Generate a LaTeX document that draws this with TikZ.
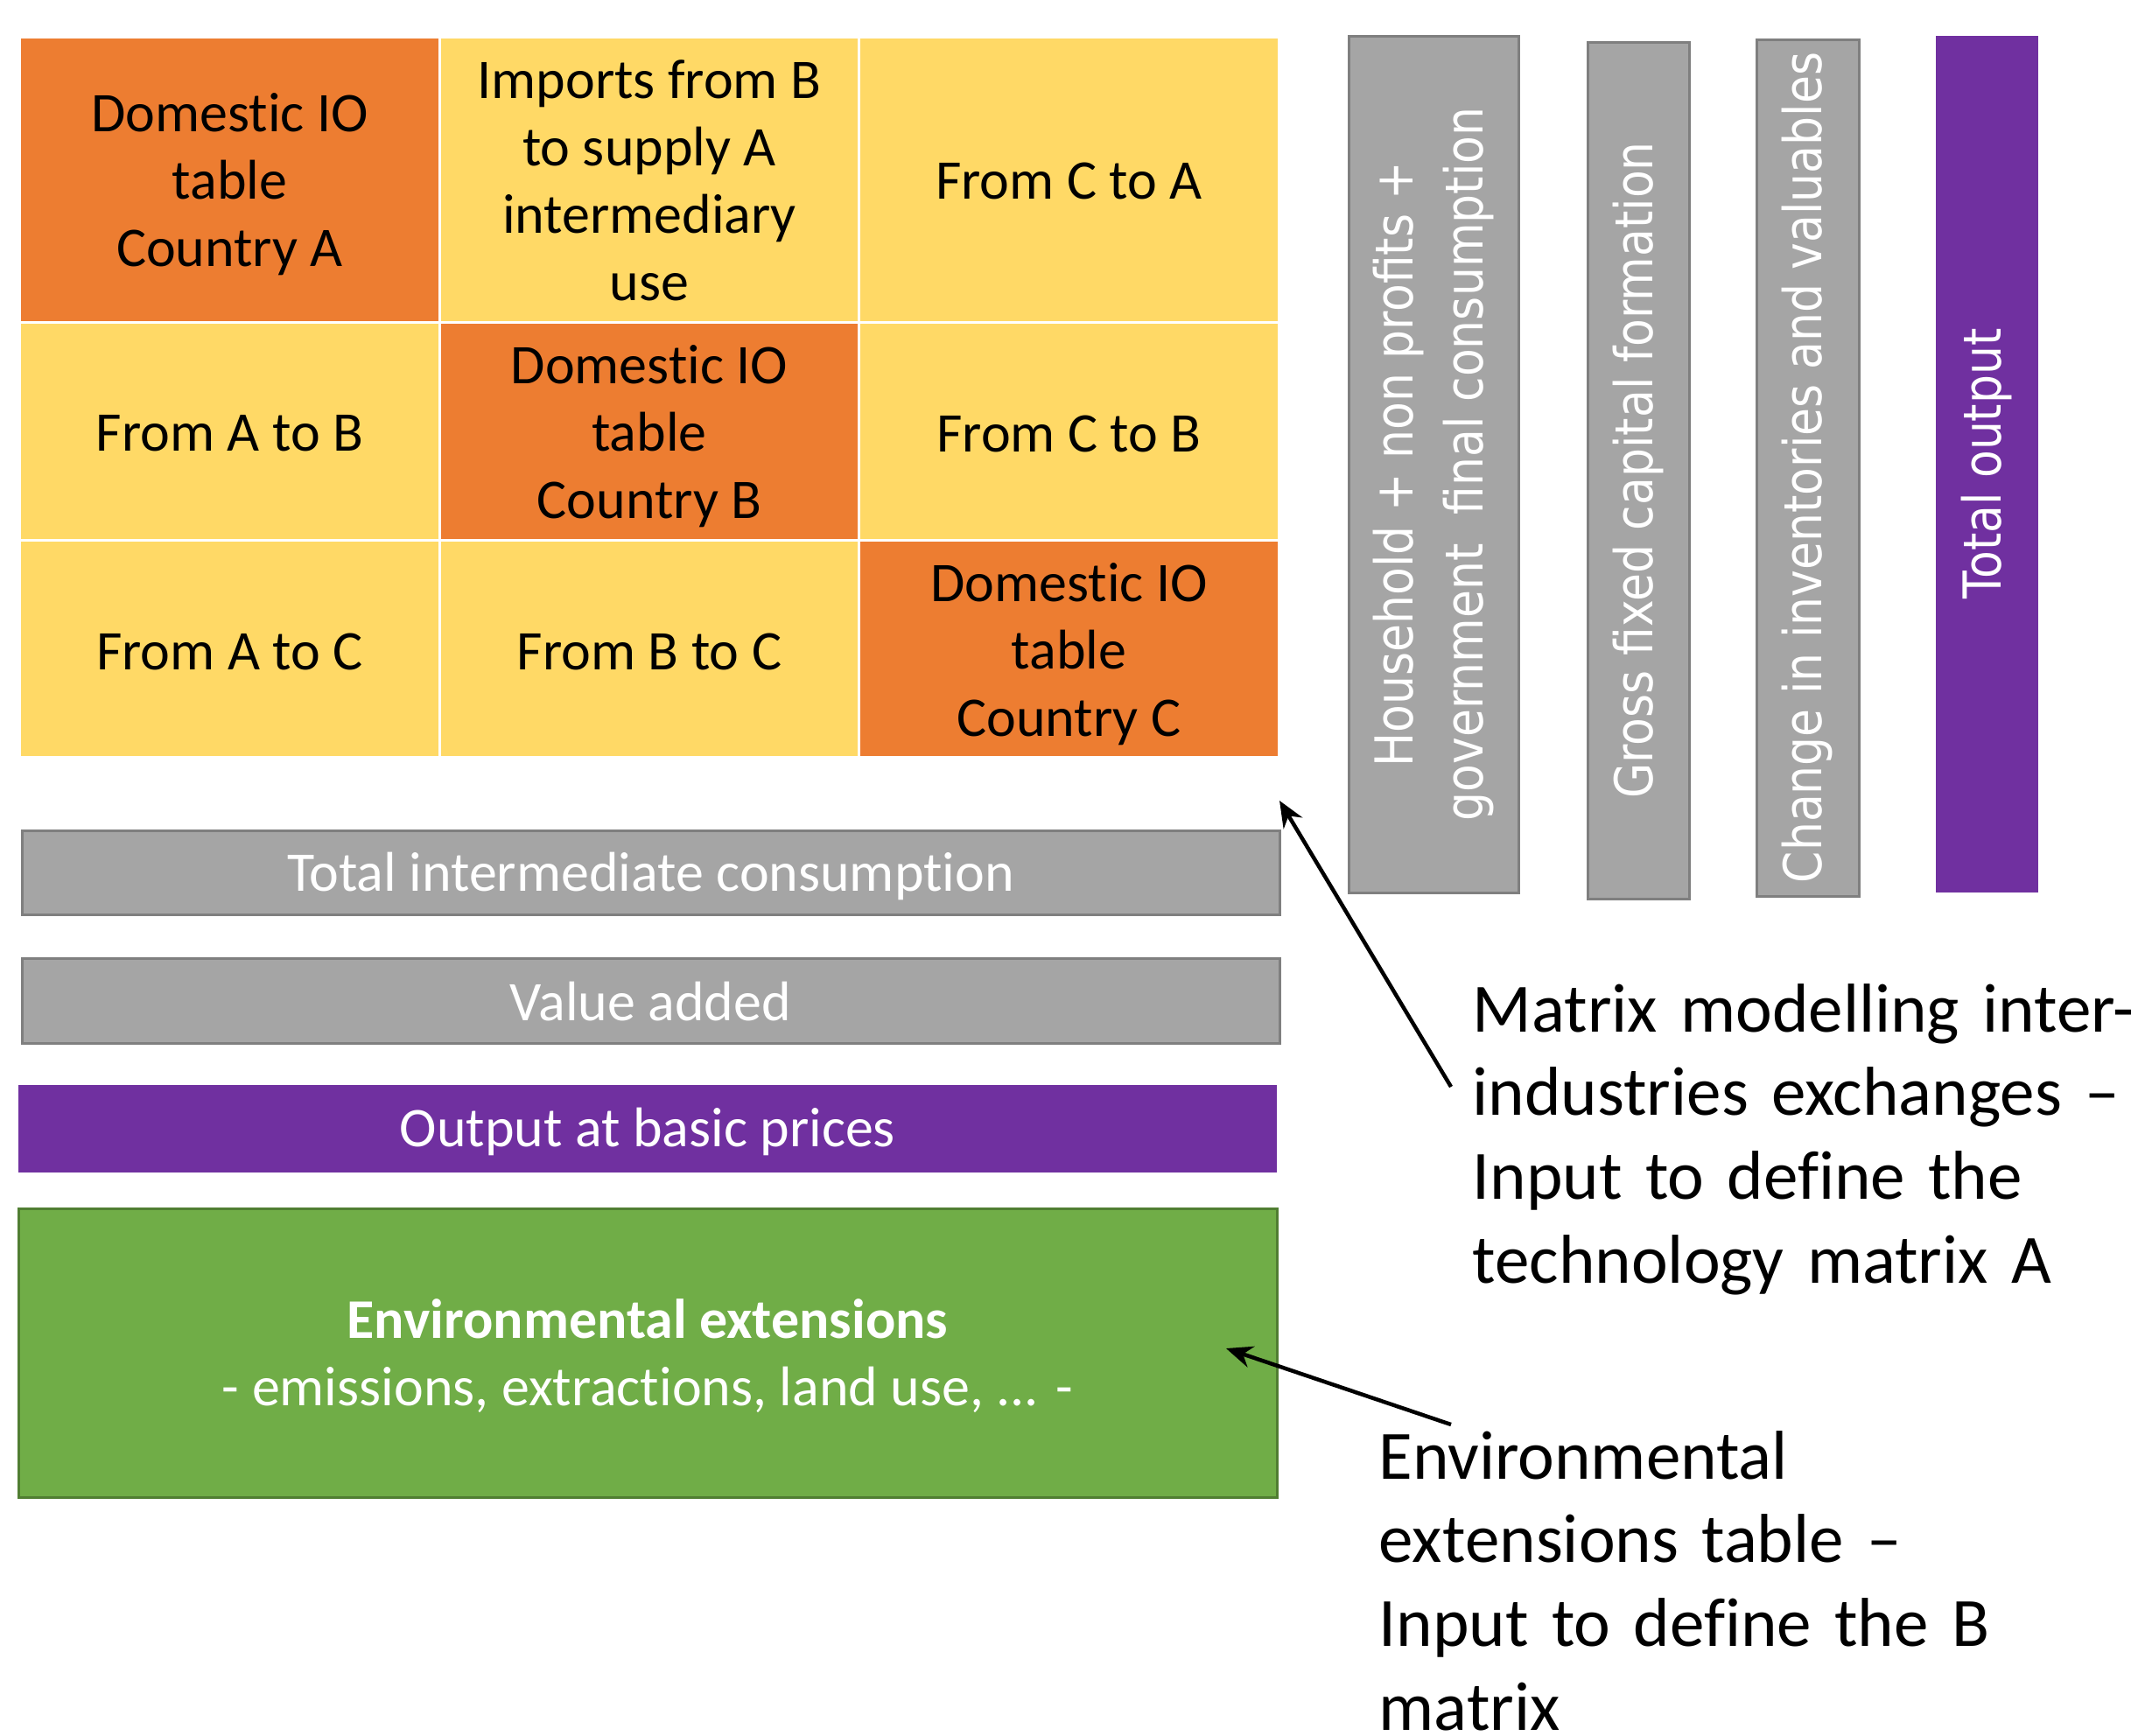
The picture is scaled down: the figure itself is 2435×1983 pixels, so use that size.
\documentclass[tikz,border=0pt]{standalone}
\usepackage{fontspec}
\setmainfont{Carlito}[Ligatures={TeX,NoCommon}]
\newfontfamily\iovertfam{DejaVu Sans}
\usetikzlibrary{arrows.meta}
\definecolor{ioorange}{HTML}{ED7D31}
\definecolor{ioyellow}{HTML}{FFD966}
\definecolor{iogray}{HTML}{A5A5A5}
\definecolor{iograyline}{HTML}{7F7F7F}
\definecolor{iopurple}{HTML}{7030A0}
\definecolor{iogreen}{HTML}{70AD47}
\definecolor{iogreenline}{HTML}{507E32}
\newcommand\gridfont{\fontsize{18.2pt}{21.9pt}\selectfont}
\newcommand\annfont{\fontsize{22.5pt}{27.3pt}\selectfont}
\newcommand\vertfont{\iovertfam\fontsize{14.8pt}{19.8pt}\selectfont}
\newcommand\vstretch[1]{\scalebox{1}[1.15]{\begin{tabular}{@{}c@{}}#1\end{tabular}}}
% lower a line of text visually without changing its box
\newcommand\dn[2][1pt]{\raisebox{-#1}[\height][\depth]{#2}}
\tikzset{
  cell/.style={draw=white, line width=0.3mm, minimum width=47.95mm, inner sep=0pt, align=center, font=\gridfont, text=black},
  orangecell/.style={cell, fill=ioorange},
  yellowcell/.style={cell, fill=ioyellow},
  hbar/.style={inner sep=0pt, align=center, font=\gridfont, text=white},
  graybar/.style={hbar, fill=iogray, draw=iograyline, line width=0.3mm},
  vbar/.style={rotate=90, inner sep=0pt, align=center, font=\vertfont, text=white, minimum width=97.9mm},
  vgraybar/.style={vbar, fill=iogray, draw=iograyline, line width=0.3mm},
  ann/.style={inner sep=0pt, align=left, font=\annfont, text=black},
  arr/.style={draw=black, line width=0.45mm, -{Stealth[length=3mm,width=2.5mm]}}
}
\begin{document}
\begin{tikzpicture}[x=0.1mm,y=-0.1mm]
\useasboundingbox[fill=white] (0,0) rectangle (2435,1983);
% grid
\node[orangecell, minimum height=32.6mm] (c11) at (262.5,205) {\dn[1.6pt]{Domestic IO}\\\dn[1.6pt]{table}\\\dn[1.6pt]{Country A}};
\node[yellowcell, minimum height=32.6mm] (c12) at (742,205) {\dn[0.3pt]{Imports from B}\\\dn[0.3pt]{to supply A}\\\dn[0.3pt]{intermediary}\\\dn[0.3pt]{use}};
\node[yellowcell, minimum height=32.6mm] (c13) at (1221.5,205) {\dn[0.6pt]{From C to A}};
\node[yellowcell, minimum height=24.9mm] (c21) at (262.5,492.5) {\dn[0.9pt]{From A to B}};
\node[orangecell, minimum height=24.9mm] (c22) at (742,492.5) {\dn[1.8pt]{Domestic IO}\\\dn[1.8pt]{table}\\\dn[1.8pt]{Country B}};
\node[yellowcell, minimum height=24.9mm] (c23) at (1221.5,492.5) {\dn[0.9pt]{From C to B}};
\node[yellowcell, minimum height=24.8mm] (c31) at (262.5,741) {\dn[1.2pt]{From A to C}};
\node[yellowcell, minimum height=24.8mm] (c32) at (742,741) {\dn[1.2pt]{From B to C}};
\node[orangecell, minimum height=24.8mm] (c33) at (1221.5,741) {\dn[2pt]{Domestic IO}\\\dn[2pt]{table}\\\dn[2pt]{Country C}};
% horizontal bars
\node[graybar, minimum width=143.7mm, minimum height=9.6mm] (tic) at (743.5,997) {\dn[1.2pt]{Total intermediate consumption}};
\node[graybar, minimum width=143.7mm, minimum height=9.7mm] (va) at (743.5,1143.5) {\dn[0.2pt]{Value added}};
\node[hbar, fill=iopurple, minimum width=143.8mm, minimum height=10mm] (out) at (740,1290) {\dn[0.9pt]{Output at basic prices}};
\node[hbar, fill=iogreen, draw=iogreenline, line width=0.3mm, minimum width=143.8mm, minimum height=33mm] (env) at (740,1546) {\dn[1pt]{\textbf{Environmental extensions}}\\\dn[1pt]{- emissions, extractions, land use, ... -}};
% vertical bars
\node[vgraybar, minimum height=19.4mm] (hh) at (1638,530.5) {\vstretch{Household + non profits +\\government\ \ final consumption}};
\node[vgraybar, minimum height=11.6mm] (gf) at (1872,537.5) {\vstretch{Gross fixed capital formation}};
\node[vgraybar, minimum height=11.7mm] (ch) at (2065.5,534.5) {\vstretch{Change in inventories and valuables}};
\node[vbar, fill=iopurple, minimum height=11.7mm] (to) at (2270.5,530) {\vstretch{Total output}};
% annotations
\node[ann, anchor=base west, text width=78mm] (ann1) at (1682,1179) {Matrix modelling inter-\\industries exchanges –\\Input to define the\\technology matrix A};
\node[ann, anchor=base west, text width=80mm] (ann2) at (1575,1690) {Environmental\\extensions table –\\Input to define the B\\matrix};
% arrows
\coordinate (t1) at (1462,915);
\coordinate (s1) at (1658,1242);
\coordinate (t2) at (1401,1541);
\coordinate (s2) at (1658,1628);
\draw[arr] (s1) -- (t1);
\draw[arr] (s2) -- (t2);
\end{tikzpicture}
\end{document}
